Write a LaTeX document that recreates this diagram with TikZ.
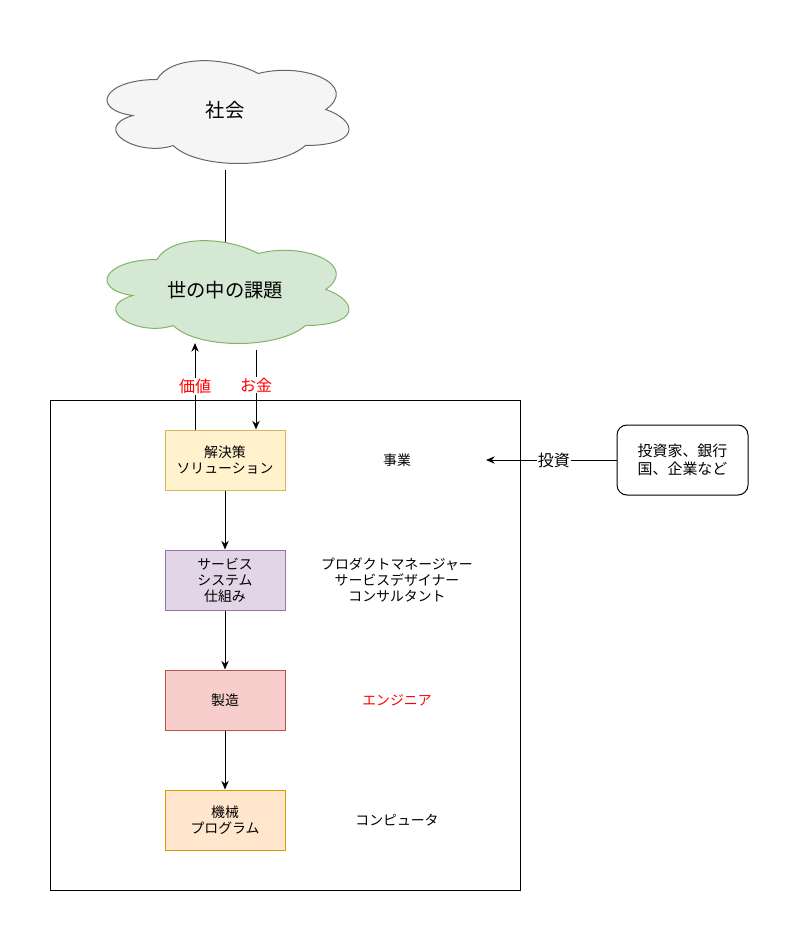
\documentclass[tikz,border=0pt]{standalone}
\usepackage{fontspec}
\setmainfont{Noto Sans CJK JP}
\usetikzlibrary{arrows.meta}

\definecolor{socfill}{HTML}{F5F5F5}
\definecolor{socline}{HTML}{666666}
\definecolor{probfill}{HTML}{D5E8D4}
\definecolor{probline}{HTML}{82B366}
\definecolor{solfill}{HTML}{FFF2CC}
\definecolor{solline}{HTML}{D6B656}
\definecolor{svcfill}{HTML}{E1D5E7}
\definecolor{svcline}{HTML}{9673A6}
\definecolor{mfgfill}{HTML}{F8CECC}
\definecolor{mfgline}{HTML}{B85450}
\definecolor{machfill}{HTML}{FFE6CC}
\definecolor{machline}{HTML}{D79B00}
\definecolor{labred}{HTML}{FF0000}

% cloud outline over the box of a node
\newcommand{\cloudpath}[2]{%
  \path[#1,shift={(#2.north west)},x=202.5pt,y=-90pt]
    (0.25,0.25) .. controls (0.05,0.25) and (0,0.5) .. (0.16,0.55)
    .. controls (0,0.66) and (0.18,0.9) .. (0.31,0.8)
    .. controls (0.4,1) and (0.7,1) .. (0.8,0.8)
    .. controls (1,0.8) and (1,0.6) .. (0.875,0.5)
    .. controls (1,0.3) and (0.8,0.1) .. (0.625,0.2)
    .. controls (0.5,0.05) and (0.3,0.05) .. (0.25,0.25) -- cycle;}

\tikzset{
  cloudtext/.style={minimum width=202.5pt,minimum height=90pt,inner sep=0pt,font=\fontsize{14.5}{17}\selectfont},
  stepbox/.style={draw,minimum width=90pt,minimum height=45pt,inner sep=0pt,align=center,font=\fontsize{10.4}{12}\selectfont},
  roletext/.style={align=center,font=\fontsize{10.4}{12}\selectfont},
  flowlabel/.style={fill=white,inner sep=1pt,font=\fontsize{12}{13}\selectfont}
}

\begin{document}
\begin{tikzpicture}[x=0.75pt,y=-0.75pt,line width=0.75pt,>={Stealth[length=6.5pt,width=5.5pt]}]
\useasboundingbox (0,0) rectangle (798,941);

\node[cloudtext] (soc) at (225,110) {};
\node[cloudtext] (prob) at (225,290) {};
\draw (soc.south) -- (prob.center);
\cloudpath{draw=socline,fill=socfill}{soc}
\cloudpath{draw=probline,fill=probfill}{prob}
\node[cloudtext] at (soc.center) {社会};
\node[cloudtext] at (prob.center) {世の中の課題};

\draw (50,400) rectangle (520,890);

\node[stepbox,fill=solfill,draw=solline] (sol) at (225,460) {解決策\\ソリューション};
\node[stepbox,fill=svcfill,draw=svcline] (svc) at (225,580) {サービス\\システム\\仕組み};
\node[stepbox,fill=mfgfill,draw=mfgline] (mfg) at (225,700) {製造};
\node[stepbox,fill=machfill,draw=machline] (mach) at (225,820) {機械\\プログラム};

\node[roletext] (biz) at (397,460) {事業};
\node[roletext] (pm) at (397,580) {プロダクトマネージャー\\サービスデザイナー\\コンサルタント};
\node[roletext,text=labred] (eng) at (397,700) {エンジニア};
\node[roletext] (comp) at (397,820) {コンピュータ};

\node[draw,rounded corners=7.5pt,minimum width=98.25pt,minimum height=52.5pt,align=center,
  font=\fontsize{11.2}{13.5}\selectfont] (inv) at (682.5,460) {投資家、銀行\\国、企業など};

\coordinate (valtop) at (195,343);
\coordinate (moneyfrom) at (256,350);
\coordinate (bizin) at (486,460);

\path[->]
  (sol.north -| valtop) edge node[flowlabel,text=labred,pos=0.5] {価値} (valtop)
  (moneyfrom) edge node[flowlabel,text=labred,pos=0.44] {お金} (sol.north -| moneyfrom)
  (sol) edge (svc)
  (svc) edge (mfg)
  (mfg) edge (mach)
  (inv.west) edge node[flowlabel,pos=0.48] {投資} (bizin)
;
\end{tikzpicture}
\end{document}
